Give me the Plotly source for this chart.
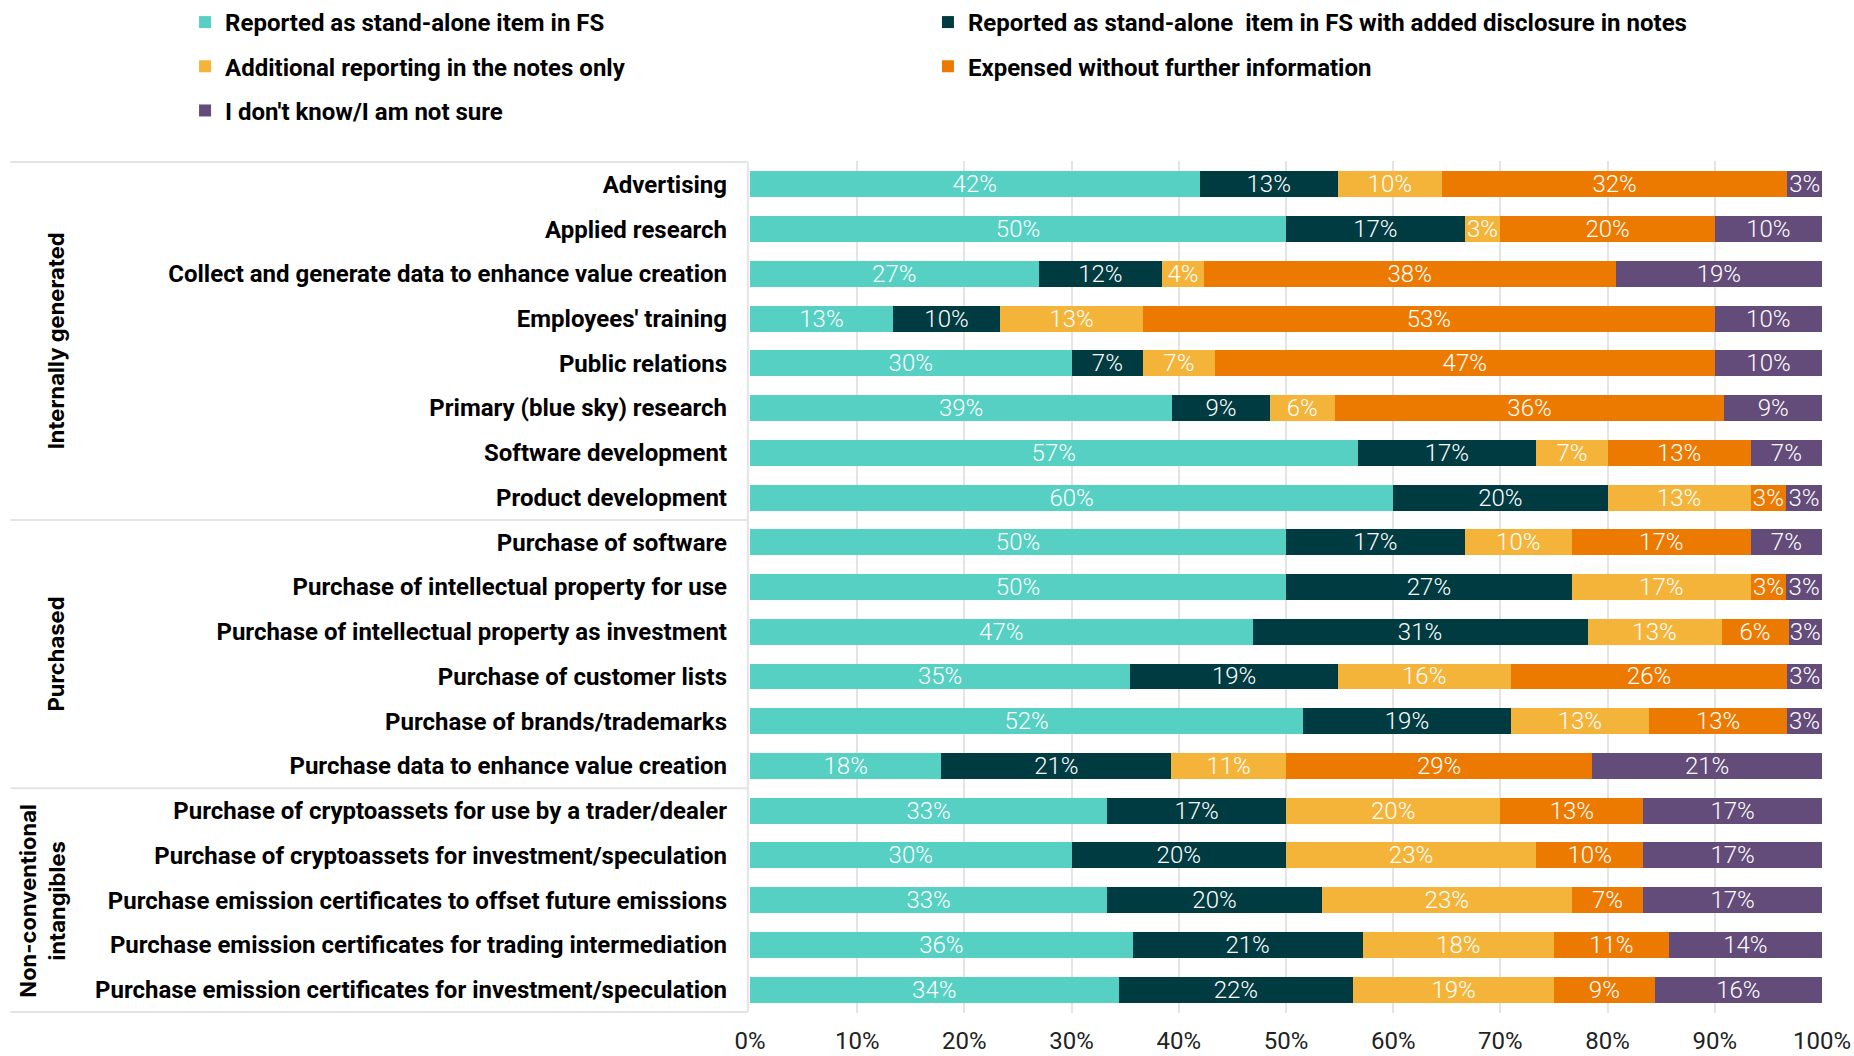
import plotly.graph_objects as go

# Intangible items, top to bottom
categories = [
    "Advertising",
    "Applied research",
    "Collect and generate data to enhance value creation",
    "Employees' training",
    "Public relations",
    "Primary (blue sky) research",
    "Software development",
    "Product development",
    "Purchase of software",
    "Purchase of intellectual property for use",
    "Purchase of intellectual property as investment",
    "Purchase of customer lists",
    "Purchase of brands/trademarks",
    "Purchase data to enhance value creation",
    "Purchase of cryptoassets for use by a trader/dealer",
    "Purchase of cryptoassets for investment/speculation",
    "Purchase emission certificates to offset future emissions",
    "Purchase emission certificates for trading intermediation",
    "Purchase emission certificates for investment/speculation",
]

# Share of respondents (%) per reporting treatment
standalone = [41.94, 50.0, 26.92, 13.33, 30.0, 39.39, 56.67, 60.0,
              50.0, 50.0, 46.88, 35.48, 51.61, 17.86,
              33.33, 30.0, 33.33, 35.71, 34.38]
standalone_notes = [12.90, 16.67, 11.54, 10.0, 6.67, 9.09, 16.67, 20.0,
                    16.67, 26.67, 31.25, 19.35, 19.35, 21.43,
                    16.67, 20.0, 20.0, 21.43, 21.88]
notes_only = [9.68, 3.33, 3.85, 13.33, 6.67, 6.06, 6.67, 13.33,
              10.0, 16.67, 12.5, 16.13, 12.90, 10.71,
              20.0, 23.33, 23.33, 17.86, 18.75]
expensed = [32.26, 20.0, 38.46, 53.33, 46.67, 36.36, 13.33, 3.33,
            16.67, 3.33, 6.25, 25.81, 12.90, 28.57,
            13.33, 10.0, 6.67, 10.71, 9.38]
not_sure = [3.23, 10.0, 19.23, 10.0, 10.0, 9.09, 6.67, 3.33,
            6.67, 3.33, 3.13, 3.23, 3.23, 21.43,
            16.67, 16.67, 16.67, 14.29, 15.63]

series_names = [
    "Reported as stand-alone item in FS",
    "Reported as stand-alone  item in FS with added disclosure in notes",
    "Additional reporting in the notes only",
    "Expensed without further information",
    "I don't know/I am not sure",
]
series_values = [standalone, standalone_notes, notes_only, expensed, not_sure]
series_colors = ["#56D0C2", "#003B42", "#F4B43A", "#EC7A00", "#634C7A"]
legend_ids = ["legend", "legend2", "legend", "legend2", "legend"]

groups = ["Internally generated", "Purchased", "Non-conventional<br>intangibles"]
group_spans = [(0, 7), (8, 13), (14, 18)]
group_label_x = [-0.647, -0.647, -0.66]

x_ticks = [0, 10, 20, 30, 40, 50, 60, 70, 80, 90, 100]

fig = go.Figure()
for name, vals, col, lg in zip(series_names, series_values, series_colors, legend_ids):
    fig.add_trace(go.Bar(
        y=categories, x=vals, name=name, orientation="h",
        marker=dict(color=col, line=dict(width=0)),
        texttemplate="%{x:.0f}%", textposition="inside",
        insidetextanchor="middle", constraintext="none",
        textfont=dict(family="Roboto", size=24, color="white", weight=300),
        legend=lg, legendgroup=name, hoverinfo="skip",
    ))

GRID = "#e4e4e4"
shapes = []
# left label panel frame
left_x = -0.69
shapes.append(dict(type="line", xref="paper", yref="y", x0=left_x, x1=-0.002,
                   y0=-0.5, y1=-0.5, line=dict(color=GRID, width=2)))
for s, e in group_spans:
    shapes.append(dict(type="line", xref="paper", yref="y", x0=left_x, x1=-0.002,
                       y0=e + 0.5, y1=e + 0.5, line=dict(color=GRID, width=2)))
shapes.append(dict(type="line", xref="paper", yref="y", x0=-0.002, x1=-0.002,
                   y0=-0.5, y1=18.5, line=dict(color=GRID, width=2)))

annotations = []
for g, (s, e), gx in zip(groups, group_spans, group_label_x):
    annotations.append(dict(
        text=g, xref="paper", yref="y", x=gx, y=(s + e) / 2,
        textangle=-90, showarrow=False, xanchor="center", yanchor="middle",
        font=dict(family="Inter", size=22, color="black", weight="bold"),
        align="center",
    ))

legend_font = dict(family="Roboto", size=24, color="black", weight="bold")
fig.update_layout(
    width=1854, height=1056,
    margin=dict(l=750, r=32, t=161, b=43, autoexpand=False),
    paper_bgcolor="white", plot_bgcolor="white",
    barmode="stack", bargap=0.42,
    uniformtext=dict(minsize=24, mode="show"),
    shapes=shapes, annotations=annotations,
    legend=dict(x=-0.527, xanchor="left", y=1.189, yanchor="top",
                font=legend_font, tracegroupgap=10, itemwidth=30,
                bgcolor="rgba(0,0,0,0)"),
    legend2=dict(x=0.166, xanchor="left", y=1.189, yanchor="top",
                 font=legend_font, tracegroupgap=10, itemwidth=30,
                 bgcolor="rgba(0,0,0,0)"),
    xaxis=dict(range=[0, 100], tickvals=x_ticks,
               ticktext=[f"{t}%" for t in x_ticks],
               showgrid=True, gridcolor=GRID, gridwidth=2,
               zeroline=False, showline=False, ticklabelstandoff=11,
               automargin=False,
               tickfont=dict(family="Roboto", size=24, color="#222")),
    yaxis=dict(categoryorder="array", categoryarray=categories,
               autorange="reversed", showgrid=False, zeroline=False,
               ticklabelstandoff=22, automargin=False,
               tickfont=dict(family="Roboto", size=24, color="black", weight="bold")),
)

fig.write_html("out.html")
